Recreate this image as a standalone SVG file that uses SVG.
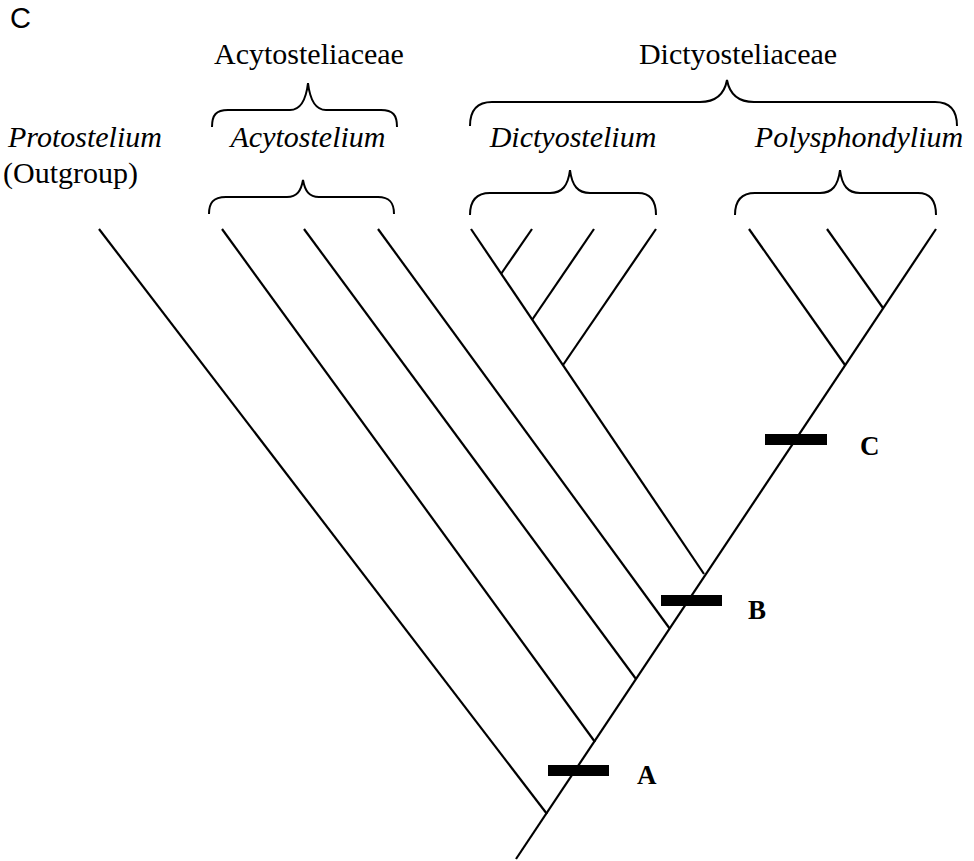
<svg xmlns="http://www.w3.org/2000/svg" width="974" height="861" viewBox="0 0 974 861">
<style>
.t{font-family:"Liberation Serif","Times New Roman",serif;font-size:30px;fill:#000}
.i{font-style:italic}
.m{text-anchor:middle}
.b{font-weight:bold;font-size:27px}
.br{fill:none;stroke:#000;stroke-width:2}
.ln{fill:none;stroke:#000;stroke-width:2.2;stroke-linecap:butt}
.bar{fill:#000}
</style>
<rect width="974" height="861" fill="#fff"/>
<text x="10" y="28" style="font-family:'Liberation Sans',Arial,sans-serif;font-size:29px">C</text>

<g id="acytosteliaceae">
<text class="t m" x="309" y="64">Acytosteliaceae</text>
<path class="br" d="M212,127 C212,115 216,110 228,110 L290,110 C300,110 306,100 308,83 C310,100 316,110 326,110 L381,110 C393,110 397,115 397,127"/>
</g>
<g id="dictyosteliaceae">
<text class="t m" x="738" y="64">Dictyosteliaceae</text>
<path class="br" d="M470,126 C470,112 476,102 492,102 L700,102 C714,102 724,96 727,80 C730,96 740,102 754,102 L935,102 C951,102 957,112 957,126"/>
</g>
<g id="protostelium">
<text class="t i" x="8" y="147">Protostelium</text>
<text class="t" x="3" y="183">(Outgroup)</text>
</g>
<g id="acytostelium">
<text class="t i m" x="308" y="147">Acytostelium</text>
<path class="br" d="M209,214 C209,203 213,197 226,197 L287,197 C297,197 301,191 303,180 C305,191 309,197 319,197 L378,197 C390,197 394,203 394,214"/>
</g>
<g id="dictyostelium">
<text class="t i m" x="573" y="147">Dictyostelium</text>
<path class="br" d="M470,215 C470,202 475,193 490,193 L550,193 C562,193 568,186 570,170 C572,186 578,193 590,193 L638,193 C651,193 656,202 656,215"/>
</g>
<g id="polysphondylium">
<text class="t i m" x="859" y="147">Polysphondylium</text>
<path class="br" d="M735,215 C735,202 740,193 755,193 L820,193 C832,193 838,186 840,170 C842,186 848,193 860,193 L918,193 C931,193 936,202 936,215"/>
</g>

<g id="connectors">
<line class="ln" x1="516" y1="859" x2="936" y2="229"/>
<line class="ln" x1="99" y1="229" x2="547" y2="814"/>
<line class="ln" x1="222" y1="229" x2="595" y2="742"/>
<line class="ln" x1="304" y1="229" x2="636" y2="679"/>
<line class="ln" x1="378" y1="229" x2="670" y2="629"/>
<line class="ln" x1="471" y1="229" x2="704" y2="574"/>
<line class="ln" x1="532" y1="229" x2="501" y2="274"/>
<line class="ln" x1="594" y1="229" x2="532" y2="320"/>
<line class="ln" x1="656" y1="229" x2="563" y2="365"/>
<line class="ln" x1="749" y1="229" x2="845" y2="365"/>
<line class="ln" x1="827" y1="229" x2="883" y2="308"/>
</g>

<g id="markerA">
<rect class="bar" x="548" y="765" width="61" height="11"/>
<text class="t b" x="637" y="784">A</text>
</g>
<g id="markerB">
<rect class="bar" x="661" y="595" width="61" height="11"/>
<text class="t b" x="748" y="619">B</text>
</g>
<g id="markerC">
<rect class="bar" x="765" y="434" width="62" height="11"/>
<text class="t b" x="860" y="455">C</text>
</g>
</svg>
